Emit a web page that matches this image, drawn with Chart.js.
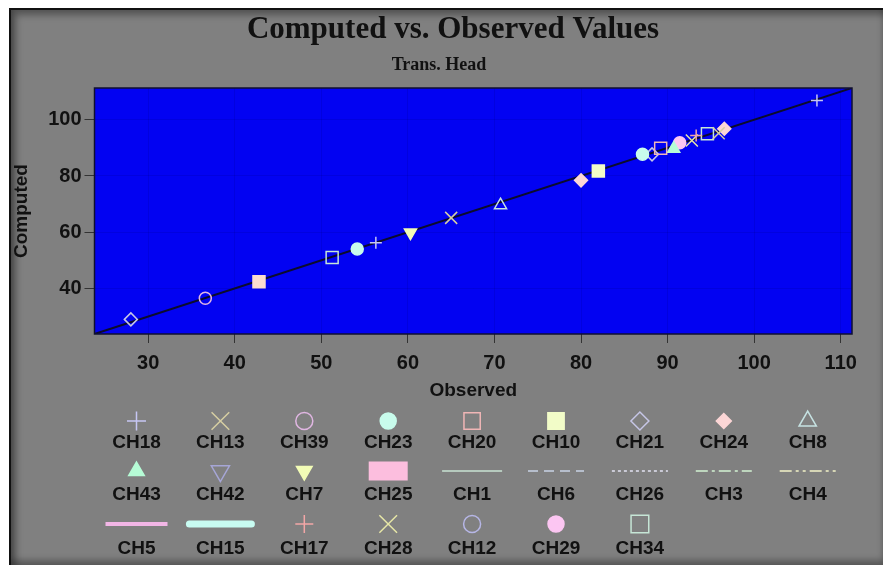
<!DOCTYPE html>
<html>
<head>
<meta charset="utf-8">
<title>Computed vs. Observed Values</title>
<script src="https://cdn.jsdelivr.net/npm/chart.js@4/dist/chart.umd.min.js"></script>
<style>
    html, body { margin: 0; padding: 0; background: #fff; overflow: hidden; }
    #frame {
        position: absolute; left: 9px; top: 8px; width: 872px; height: 555px;
        background: #808080;
        border-left: 2px solid #111; border-top: 2px solid #111;
        box-shadow: inset 5px 5px 7px rgba(0,0,0,0.35), inset 0 -5px 6px rgba(0,0,0,0.3);
    }
    #wrap { position: absolute; left: 0; top: 0; width: 883px; height: 565px; }
</style>
</head>
<body>
<div id="frame"></div>
<div id="wrap"><canvas id="chart" width="883" height="565"></canvas></div>
<script>
// Observed / computed pairs
const observed = [28.0, 36.6, 42.8, 51.25, 54.15, 56.3, 60.3, 65.0, 70.7, 80.0, 82.0,
                  87.1, 88.2, 89.2, 90.7, 91.4, 92.8, 93.3, 94.6, 95.9, 96.55, 107.25];
const computed = [29.0, 36.5, 42.35, 51.0, 54.0, 56.3, 59.9, 65.1, 69.6, 78.45, 81.75,
                  87.7, 87.7, 89.9, 89.7, 91.8, 92.65, 94.4, 95.0, 95.2, 96.8, 106.85];
const pointSeries = ['CH21', 'CH39', 'CH25', 'CH34', 'CH23', 'CH18', 'CH7', 'CH13', 'CH8', 'CH24', 'CH10',
                     'CH23', 'CH21', 'CH20', 'CH43', 'CH29', 'CH28', 'CH17', 'CH34', 'CH13', 'CH24', 'CH18'];

// legend order
const seriesNames = ['CH18', 'CH13', 'CH39', 'CH23', 'CH20', 'CH10', 'CH21', 'CH24', 'CH8',
                     'CH43', 'CH42', 'CH7', 'CH25', 'CH1', 'CH6', 'CH26', 'CH3', 'CH4',
                     'CH5', 'CH15', 'CH17', 'CH28', 'CH12', 'CH29', 'CH34'];

const xTicks = [30, 40, 50, 60, 70, 80, 90, 100, 110];
const yTicks = [40, 60, 80, 100];
const axisMin = 23.8;
const axisMax = 111.3;
const oneToOne = [axisMin, axisMax];

// marker look per series (lr = legend marker radius)
const seriesLook = {
    CH18: { mark: 'cross', color: '#c6c6f4', r: 6, lr: 9.5 },
    CH13: { mark: 'crossRot', color: '#d6cea2', r: 8.5, lr: 12.5 },
    CH39: { mark: 'circle', color: '#e0b6e2', r: 6, lr: 8.5 },
    CH23: { mark: 'circle', color: '#c8fcec', fill: true, r: 6, lr: 8 },
    CH20: { mark: 'rect', color: '#f0b6b6', r: 8.5, lr: 11.5 },
    CH10: { mark: 'rect', color: '#f2fcc8', fill: true, r: 8.5, lr: 11.5 },
    CH21: { mark: 'rectRot', color: '#c6c6e6', r: 6.5, lr: 9 },
    CH24: { mark: 'rectRot', color: '#fcd6d6', fill: true, r: 6.5, lr: 7.5 },
    CH8:  { mark: 'triangle', color: '#c6e2e2', r: 7, lr: 10 },
    CH43: { mark: 'triangle', color: '#b6fcd6', fill: true, r: 7, lr: 9 },
    CH42: { mark: 'triangle', rot: 180, color: '#a6a6d6', r: 7, lr: 10.5 },
    CH7:  { mark: 'triangle', rot: 180, color: '#f2fcb6', fill: true, r: 7, lr: 9 },
    CH25: { mark: 'rect', bar: true, color: '#fcdcd0', legendColor: '#fcbede', fill: true, r: 8.5 },
    CH1:  { line: [], color: '#b6cabe', width: 2, len: 60 },
    CH6:  { line: [10, 6], color: '#b6becc', width: 2, len: 56 },
    CH26: { line: [3, 3], color: '#cacad6', width: 2, len: 56 },
    CH3:  { line: [12, 4, 3, 4], color: '#bed6be', width: 2, len: 56 },
    CH4:  { line: [12, 4, 3, 4, 3, 4], color: '#d6d6b6', width: 2, len: 56 },
    CH5:  { line: [], color: '#f2b6e6', width: 4, len: 62 },
    CH15: { line: [], color: '#c8fcf2', width: 7, len: 62, round: true },
    CH17: { mark: 'cross', color: '#f2a6a6', r: 6, lr: 9 },
    CH28: { mark: 'crossRot', color: '#e6e6a6', r: 8.5, lr: 12.5 },
    CH12: { mark: 'circle', color: '#b6b6e6', r: 6, lr: 8.5 },
    CH29: { mark: 'circle', color: '#fcc6f2', fill: true, r: 6, lr: 8 },
    CH34: { mark: 'rect', color: '#c6e6d6', r: 8.5, lr: 12.5 }
};

const datasets = [{
    type: 'line',
    label: '1:1',
    data: oneToOne.map(v => ({ x: v, y: v })),
    borderColor: '#0c0c2c',
    borderWidth: 2,
    pointRadius: 0,
    order: 2
}];

seriesNames.forEach(name => {
    const look = seriesLook[name];
    const pts = [];
    pointSeries.forEach((s, i) => {
        if (s === name) pts.push({ x: observed[i], y: computed[i] });
    });
    if (!look.mark) return;
    datasets.push({
        type: 'scatter',
        label: name,
        data: pts,
        pointStyle: look.mark,
        pointRotation: look.rot || 0,
        pointRadius: look.r,
        pointHoverRadius: look.r,
        borderColor: look.color,
        backgroundColor: look.fill ? look.color : 'rgba(0,0,0,0)',
        borderWidth: 1.5,
        order: 1
    });
});

const plotFrame = {
    id: 'plotFrame',
    beforeDraw(chart) {
        const a = chart.chartArea;
        const ctx = chart.ctx;
        ctx.save();
        ctx.fillStyle = '#0202f2';
        ctx.fillRect(a.left, a.top, a.right - a.left, a.bottom - a.top);
        ctx.restore();
    },
    afterDatasetsDraw(chart) {
        const a = chart.chartArea;
        const ctx = chart.ctx;
        ctx.save();
        ctx.strokeStyle = '#101030';
        ctx.lineWidth = 1.5;
        ctx.strokeRect(a.left, a.top, a.right - a.left, a.bottom - a.top);
        ctx.restore();
    },
    afterDraw(chart) {
        const ctx = chart.ctx;
        ctx.save();
        ctx.fillStyle = '#111';
        ctx.textAlign = 'center';
        ctx.textBaseline = 'middle';
        ctx.font = 'bold 31px "Liberation Serif", "Times New Roman", serif';
        ctx.fillText('Computed vs. Observed Values', 453, 30);
        ctx.font = 'bold 18px "Liberation Serif", "Times New Roman", serif';
        ctx.fillText('Trans. Head', 439, 65);

        // legend: 9 columns, marker above name
        const colX = i => 136.5 + 83.9 * i;
        const markY = [421, 471, 524];
        const textY = [443, 495, 549];
        ctx.font = 'bold 19px "Liberation Sans", Arial, sans-serif';
        seriesNames.forEach((name, i) => {
            const look = seriesLook[name];
            const row = Math.floor(i / 9);
            const x = colX(i % 9);
            const y = markY[row];
            ctx.save();
            if (look.line) {
                ctx.strokeStyle = look.color;
                ctx.lineWidth = look.width;
                ctx.setLineDash(look.line);
                ctx.lineCap = look.round ? 'round' : 'butt';
                ctx.beginPath();
                ctx.moveTo(x - look.len / 2, y);
                ctx.lineTo(x + look.len / 2, y);
                ctx.stroke();
            } else if (look.bar) {
                ctx.fillStyle = look.legendColor;
                ctx.fillRect(x - 19.5, y - 9.5, 39, 19);
            } else {
                ctx.strokeStyle = look.color;
                ctx.fillStyle = look.fill ? look.color : 'rgba(0,0,0,0)';
                ctx.lineWidth = 1.5;
                Chart.helpers.drawPoint(ctx, {
                    pointStyle: look.mark,
                    rotation: look.rot || 0,
                    radius: look.lr,
                    borderWidth: 1.5
                }, x, y);
            }
            ctx.restore();
            ctx.fillStyle = '#111';
            ctx.fillText(name, x, textY[row]);
        });
        ctx.restore();
    }
};

const tickFont = { family: '"Liberation Sans", Arial, sans-serif', size: 20, weight: 'bold' };
const titleFont = { family: '"Liberation Sans", Arial, sans-serif', size: 19, weight: 'bold' };

new Chart(document.getElementById('chart'), {
    data: { datasets: datasets },
    options: {
        responsive: false,
        animation: false,
        layout: { padding: { left: 10, top: 88, right: 31, bottom: 161 } },
        plugins: {
            legend: { display: false },
            tooltip: { enabled: false }
        },
        scales: {
            x: {
                type: 'linear',
                min: axisMin,
                max: axisMax,
                afterBuildTicks: scale => { scale.ticks = xTicks.map(v => ({ value: v })); },
                afterFit: scale => { scale.height = 70; },
                ticks: { color: '#111', font: tickFont, padding: 8, maxRotation: 0 },
                grid: { color: 'rgba(0,0,90,0.12)', tickColor: '#333', tickLength: 9 },
                border: { display: false },
                title: { display: true, text: 'Observed', color: '#111', font: titleFont, padding: { top: 0, bottom: 2 } }
            },
            y: {
                type: 'linear',
                min: axisMin,
                max: axisMax,
                afterBuildTicks: scale => { scale.ticks = yTicks.map(v => ({ value: v })); },
                afterFit: scale => { scale.width = 84.5; },
                ticks: { color: '#111', font: tickFont, padding: 3 },
                grid: { color: 'rgba(0,0,90,0.12)', tickColor: '#333', tickLength: 10 },
                border: { display: false },
                title: { display: true, text: 'Computed', color: '#111', font: titleFont, padding: 0 }
            }
        }
    },
    plugins: [plotFrame]
});
</script>
</body>
</html>
